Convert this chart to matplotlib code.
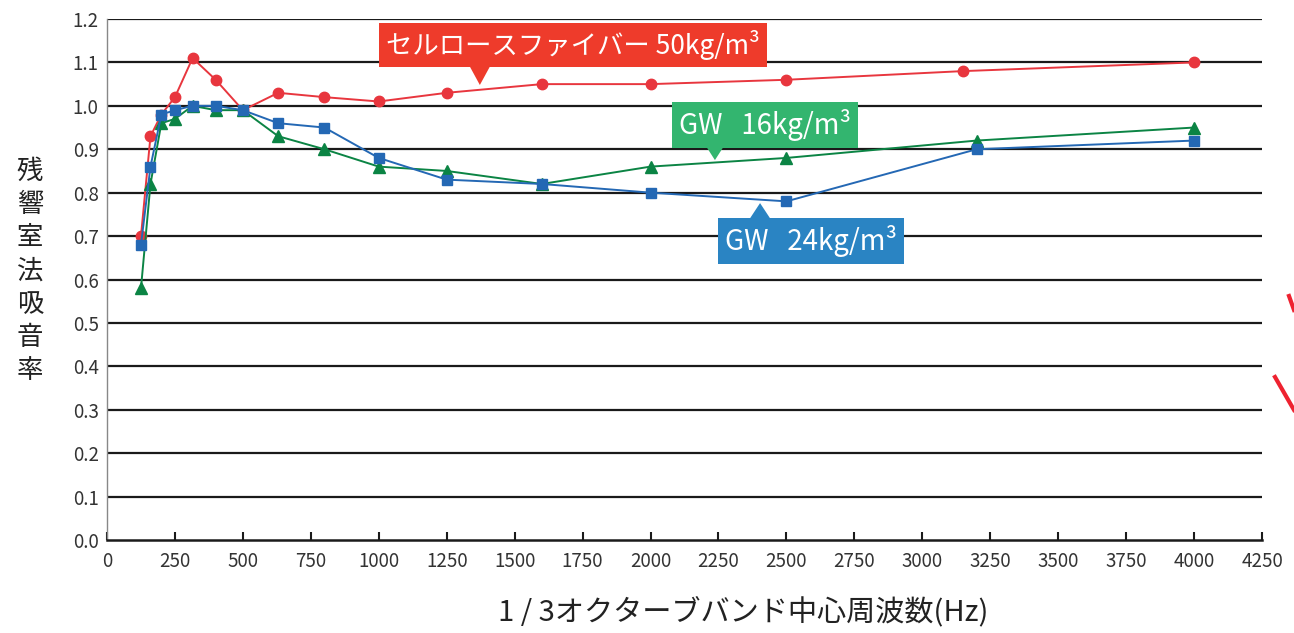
"""
Reverberation-room absorption coefficient vs 1/3 octave band frequency.
"""

import matplotlib
matplotlib.use('Agg')
import matplotlib.pyplot as plt
from matplotlib.patches import Polygon
from matplotlib.lines import Line2D

plt.rcParams['font.family'] = ['Noto Sans CJK JP', 'DejaVu Sans']

# data
freq_cf = [125, 160, 200, 250, 315, 400, 500, 630, 800, 1000, 1250, 1600, 2000, 2500, 3150, 4000]
cellulose_50 = [0.70, 0.93, 0.98, 1.02, 1.11, 1.06, 0.99, 1.03, 1.02, 1.01, 1.03, 1.05, 1.05, 1.06, 1.08, 1.10]

freq_gw = [125, 160, 200, 250, 315, 400, 500, 630, 800, 1000, 1250, 1600, 2000, 2500, 3200, 4000]
gw_24 = [0.68, 0.86, 0.98, 0.99, 1.00, 1.00, 0.99, 0.96, 0.95, 0.88, 0.83, 0.82, 0.80, 0.78, 0.90, 0.92]
gw_16 = [0.58, 0.82, 0.96, 0.97, 1.00, 0.99, 0.99, 0.93, 0.90, 0.86, 0.85, 0.82, 0.86, 0.88, 0.92, 0.95]

labels = ['セルロースファイバー 50kg/m³', 'GW   16kg/m³', 'GW   24kg/m³']
line_colors = ['#E8363E', '#0B8444', '#2468B4']
box_colors = ['#EE3B2B', '#33B56F', '#2A84C3']

xticks = list(range(0, 4251, 250))
yticks = [i / 10 for i in range(13)]

fig = plt.figure(figsize=(12.94, 6.33), dpi=100)
ax = fig.add_axes([107 / 1294, 1 - 540 / 633, (1262 - 107) / 1294, (540 - 19) / 633])

ax.set_xlim(0, 4250)
ax.set_ylim(0, 1.2)
for y in yticks[1:]:
    ax.axhline(y, color='#1a1a1a', linewidth=1.6, zorder=1)

ax.plot(freq_cf, cellulose_50, color=line_colors[0], marker='o', markersize=7.5,
        linewidth=1.4, zorder=3, clip_on=False)
ax.plot(freq_gw, gw_16, color=line_colors[1], marker='^', markersize=8.5,
        linewidth=1.4, zorder=3, clip_on=False)
ax.plot(freq_gw, gw_24, color=line_colors[2], marker='s', markersize=7.5,
        linewidth=1.4, zorder=4, clip_on=False)

ax.set_xticks(xticks)
ax.set_yticks(yticks)
ax.set_yticklabels([f'{v:.1f}' for v in yticks])
ax.tick_params(axis='x', direction='in', length=6, width=1.5, color='#1a1a1a',
               labelsize=13.5, labelcolor='#333333', pad=8)
ax.tick_params(axis='y', length=0, labelsize=13.5, labelcolor='#333333', pad=6)

for side in ['top', 'right']:
    ax.spines[side].set_visible(False)
ax.spines['left'].set_color('#888888')
ax.spines['left'].set_linewidth(1.0)
ax.spines['bottom'].set_color('#1a1a1a')
ax.spines['bottom'].set_linewidth(1.8)

fig.text(743 / 1294, 1 - 612 / 633, '1 / 3オクターブバンド中心周波数(Hz)', fontsize=21,
         color='#222222', ha='center', va='center')
fig.text(30 / 1294, 1 - 271 / 633, '\n'.join('残響室法吸音率'), fontsize=19,
         color='#222222', ha='center', va='center', linespacing=1.3)

# callout boxes: (text x, text y, tip x, tip y, base y, half width, font size)
callouts = [
    (1715, 1.140, 1372, 1.048, 1.094, 40, 19),
    (2421, 0.956, 2237, 0.875, 0.912, 38, 20),
    (2590, 0.689, 2403, 0.776, 0.738, 40, 20),
]
for (tx, ty, px, py, by, hw, fs), lab, bc in zip(callouts, labels, box_colors):
    ax.text(tx, ty, lab, fontsize=fs, color='white', ha='center', va='center', zorder=6,
            bbox=dict(boxstyle='square,pad=0.26', facecolor=bc, edgecolor='none'))
    tri = Polygon([[px - hw, by], [px + hw, by], [px, py]], closed=True,
                  facecolor=bc, edgecolor='none', zorder=6)
    ax.add_patch(tri)

# stray red stroke at the right edge of the scan
fig.add_artist(Line2D([1275 / 1294, 1294 / 1294], [1 - 377 / 633, 1 - 410 / 633],
                      color='#EE2230', linewidth=3))
fig.add_artist(Line2D([1289 / 1294, 1294 / 1294], [1 - 296 / 633, 1 - 310 / 633],
                      color='#EE2230', linewidth=3))

fig.savefig('out.png', dpi=100)
